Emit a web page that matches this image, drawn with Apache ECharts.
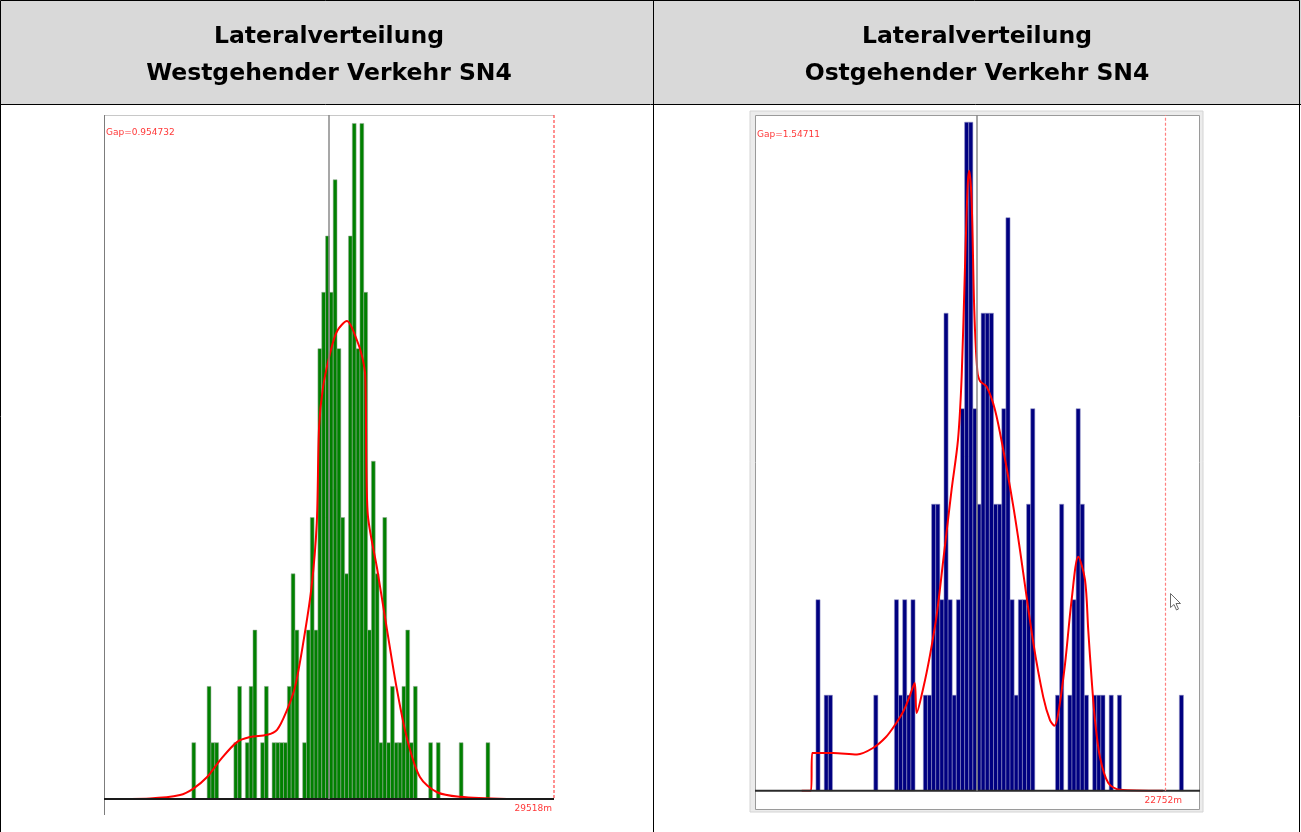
<!DOCTYPE html>
<html>
<head>
<meta charset="utf-8">
<script src="https://cdn.jsdelivr.net/npm/echarts@6/dist/echarts.min.js"></script>
<style>
  html, body { margin: 0; padding: 0; background: #ffffff; }
  #chart { width: 1301px; height: 832px; }
</style>
</head>
<body>
<div id="chart"></div>
<script>
// ---- Westgehender Verkehr: histogram (bin index -> count) ----
const westBins   = [23, 27, 28, 29, 34, 35, 37, 38, 39, 41, 42, 44, 45, 46, 47, 48, 49, 50,
                    52, 53, 54, 55, 56, 57, 58, 59, 60, 61, 62, 63, 64, 65, 66, 67, 68, 69,
                    70, 71, 72, 73, 74, 75, 76, 77, 78, 79, 80, 81, 85, 87, 93, 100];
const westCounts = [ 1,  2,  1,  1,  1,  2,  1,  2,  3,  1,  2,  1,  1,  1,  1,  2,  4,  3,
                     1,  3,  5,  3,  8,  9, 10,  9, 11,  8,  5,  4, 10, 12,  8, 12,  9,  3,
                     6,  4,  1,  5,  1,  2,  1,  1,  2,  3,  1,  2,  1,  1,  1,  1];
// density curve (x in bins, y in counts)
const westCurveX = [0, 12.0, 19.9, 23.3, 27.0, 30.4, 34.8, 38.2, 42.7, 45.3, 47.9, 50.0, 52.1,
                    54.3, 55.7, 56.3, 57.3, 59.2, 61.0, 63.6, 66.2, 67.6, 68.4,
                    69.0, 71.5, 74.1, 76.7, 79.3, 82.7, 87.2, 93.2, 105.5];
const westCurveY = [0, 0.01, 0.07, 0.18, 0.39, 0.69, 1.01, 1.10, 1.14, 1.23, 1.58, 1.99, 2.75,
                    3.75, 4.9, 6.6, 7.30, 7.92, 8.31, 8.49, 8.15, 7.85, 7.5,
                    5.1, 4.09, 3.00, 1.94, 1.08, 0.39, 0.12, 0.04, 0];
const westXMax = 117.8;       // bins across the plot
const westYMax = 12.15;
const westMeanBin = 58.8;     // grey reference line
const westGap = 'Gap=0.954732';
const westRange = '29518m';

// ---- Ostgehender Verkehr: histogram (bin index -> count) ----
const eastBins   = [15, 17, 18, 29, 34, 35, 36, 37, 38, 41, 42, 43, 44, 45, 46, 47, 48, 49,
                    50, 51, 52, 53, 54, 55, 56, 57, 58, 59, 60, 61, 62, 63, 64, 65, 66, 67,
                    73, 74, 76, 77, 78, 79, 80, 82, 83, 84, 86, 88, 103];
const eastCounts = [ 2,  1,  1,  1,  2,  1,  2,  1,  2,  1,  1,  3,  3,  2,  5,  2,  1,  2,
                     4,  7,  7,  4,  3,  5,  5,  5,  3,  3,  4,  6,  2,  1,  2,  2,  3,  4,
                     1,  3,  1,  2,  4,  3,  1,  1,  1,  1,  1,  1,  1];
const eastCurveX = [11.55, 13.8, 14.1, 19.13, 24.94, 28.81, 31.96, 34.14, 36.08, 37.53, 38.91,
                    39.39, 40.99, 42.62, 44.24, 45.84, 47.87, 49.39, 50.29, 51.09, 51.74,
                    52.13, 52.71, 53.34, 54.07, 54.72, 56.34, 58.35, 60.36, 62.78, 64.41,
                    67.63, 70.05, 71.67, 72.76, 73.68, 75.30, 76.92, 78.52,
                    80.15, 80.94, 81.77, 82.57, 83.78, 85.79, 88.62, 99.03];
const eastCurveY = [0, 0, 0.395, 0.395, 0.38, 0.447, 0.562, 0.688, 0.824, 0.971, 1.128,
                    0.814, 1.075, 1.42, 1.84, 2.416, 3.16, 3.67, 4.34, 5.48, 6.34,
                    6.49, 6.16, 5.03, 4.40, 4.29, 4.23, 3.99, 3.57, 2.98, 2.52,
                    1.55, 0.98, 0.74, 0.68, 0.81, 1.32, 2.00, 2.45,
                    2.21, 1.68, 1.16, 0.74, 0.35, 0.08, 0.01, 0];
const eastXMax = 108.0;
const eastYMax = 7.075;
const eastMeanBin = 54.0;
const eastLimitBin = 99.5;    // red dashed limit
const eastGap = 'Gap=1.54711';
const eastRange = '22752m';

const headerLeft  = ['Lateralverteilung', 'Westgehender Verkehr SN4'];
const headerRight = ['Lateralverteilung', 'Ostgehender Verkehr SN4'];

const zip = (a, b) => a.map((v, i) => [v, b[i]]);

function barRenderer(fill, stroke) {
  return function (params, api) {
    const i = api.value(0), v = api.value(1);
    const p0 = api.coord([i, 0]);
    const p1 = api.coord([i + 1, v]);
    return {
      type: 'rect',
      shape: { x: p0[0], y: p1[1], width: p1[0] - p0[0], height: p0[1] - p1[1] },
      style: { fill: fill, stroke: stroke, lineWidth: 0.6 }
    };
  };
}

const chart = echarts.init(document.getElementById('chart'), null, { renderer: 'canvas' });

const headFont = 'bold 23.5px "DejaVu Sans", Verdana, sans-serif';
const smallFont = '9px "DejaVu Sans", Tahoma, sans-serif';

const graphic = [
  // table header background and rules
  { type: 'rect', z: -10, shape: { x: 0, y: 0, width: 1301, height: 104 }, style: { fill: '#d9d9d9' } },
  { type: 'rect', z: 50, shape: { x: 0.5, y: 0.5, width: 1299, height: 840 }, style: { fill: 'none', stroke: '#000', lineWidth: 1 } },
  { type: 'line', z: 50, shape: { x1: 0, y1: 104.5, x2: 1301, y2: 104.5 }, style: { stroke: '#000', lineWidth: 1 } },
  { type: 'line', z: 50, shape: { x1: 653.5, y1: 0, x2: 653.5, y2: 832 }, style: { stroke: '#000', lineWidth: 1 } },
  { type: 'text', style: { text: headerLeft[0], x: 329, y: 37, textAlign: 'center', textVerticalAlign: 'middle', font: headFont, fill: '#000' } },
  { type: 'text', style: { text: headerLeft[1], x: 329, y: 74, textAlign: 'center', textVerticalAlign: 'middle', font: headFont, fill: '#000' } },
  { type: 'text', style: { text: headerRight[0], x: 977, y: 37, textAlign: 'center', textVerticalAlign: 'middle', font: headFont, fill: '#000' } },
  { type: 'text', style: { text: headerRight[1], x: 977, y: 74, textAlign: 'center', textVerticalAlign: 'middle', font: headFont, fill: '#000' } },

  // west panel frame
  { type: 'line', z: -5, shape: { x1: 104, y1: 115.5, x2: 554, y2: 115.5 }, style: { stroke: '#c8c8c8', lineWidth: 1 } },
  { type: 'line', z: 5, shape: { x1: 104.5, y1: 115, x2: 104.5, y2: 815 }, style: { stroke: '#7c7c7c', lineWidth: 1 } },
  { type: 'line', z: 5, shape: { x1: 104, y1: 799, x2: 554, y2: 799 }, style: { stroke: '#1a1a1a', lineWidth: 2 } },
  { type: 'line', z: 6, shape: { x1: 554, y1: 115, x2: 554, y2: 800 }, style: { stroke: '#ff4848', lineWidth: 1.2, lineDash: [3, 2] } },
  { type: 'text', z: 6, style: { text: westGap, x: 106, y: 133, textVerticalAlign: 'middle', font: smallFont, fill: '#ff3838' } },
  { type: 'text', z: 6, style: { text: westRange, x: 552, y: 809, textAlign: 'right', textVerticalAlign: 'middle', font: smallFont, fill: '#ff3838' } },

  // east panel frame
  { type: 'rect', z: -6, shape: { x: 750, y: 111, width: 453, height: 701 }, style: { fill: '#ececec', stroke: '#d4d4d4', lineWidth: 1 } },
  { type: 'rect', z: -5, shape: { x: 755.5, y: 115.5, width: 444, height: 694 }, style: { fill: '#ffffff', stroke: '#9a9a9a', lineWidth: 1 } },
  { type: 'line', z: 5, shape: { x1: 755, y1: 790.7, x2: 1200, y2: 790.7 }, style: { stroke: '#2a2a2a', lineWidth: 2 } },
  { type: 'text', z: 6, style: { text: eastGap, x: 757, y: 135, textVerticalAlign: 'middle', font: smallFont, fill: '#ff3838' } },
  { type: 'text', z: 6, style: { text: eastRange, x: 1182, y: 801, textAlign: 'right', textVerticalAlign: 'middle', font: smallFont, fill: '#ff3838' } },
  // mouse pointer
  { type: 'polygon', z: 20, shape: { points: [[1170.5, 593.5], [1170.5, 607.5], [1174, 604.5], [1176.5, 610], [1178.5, 609], [1176, 603.5], [1180.5, 603.5]] },
    style: { fill: '#ffffff', stroke: '#6a6a6a', lineWidth: 1 } }
];

const option = {
  animation: false,
  backgroundColor: '#ffffff',
  grid: [
    { left: 104, top: 115, width: 450, height: 684 },
    { left: 754, top: 115, width: 446, height: 675.7 }
  ],
  xAxis: [
    { type: 'value', gridIndex: 0, min: 0, max: westXMax, show: false },
    { type: 'value', gridIndex: 1, min: 0, max: eastXMax, show: false }
  ],
  yAxis: [
    { type: 'value', gridIndex: 0, min: 0, max: westYMax, show: false },
    { type: 'value', gridIndex: 1, min: 0, max: eastYMax, show: false }
  ],
  graphic: graphic,
  series: [
    {
      type: 'custom', xAxisIndex: 0, yAxisIndex: 0, z: 2,
      renderItem: barRenderer('#008000', 'rgba(150,170,150,0.9)'),
      data: zip(westBins, westCounts),
      markLine: {
        silent: true, symbol: 'none', label: { show: false },
        lineStyle: { color: '#8a8a8a', width: 1.5, type: 'solid' },
        data: [{ xAxis: westMeanBin }]
      }
    },
    {
      type: 'line', xAxisIndex: 0, yAxisIndex: 0, z: 4,
      data: zip(westCurveX, westCurveY),
      smooth: 0.3, showSymbol: false,
      lineStyle: { color: '#ff0000', width: 2 }
    },
    {
      type: 'custom', xAxisIndex: 1, yAxisIndex: 1, z: 2,
      renderItem: barRenderer('#000080', 'rgba(150,150,200,0.9)'),
      data: zip(eastBins, eastCounts),
      markLine: {
        silent: true, symbol: 'none', label: { show: false },
        data: [
          { xAxis: eastMeanBin, lineStyle: { color: '#8a8a8a', width: 1.5, type: 'solid' } },
          { xAxis: eastLimitBin, lineStyle: { color: '#ff8080', width: 1.2, type: [3, 2] } }
        ]
      }
    },
    {
      type: 'line', xAxisIndex: 1, yAxisIndex: 1, z: 4,
      data: zip(eastCurveX, eastCurveY),
      smooth: 0.3, showSymbol: false,
      lineStyle: { color: '#ff0000', width: 2 }
    }
  ]
};

chart.setOption(option);
</script>
</body>
</html>
